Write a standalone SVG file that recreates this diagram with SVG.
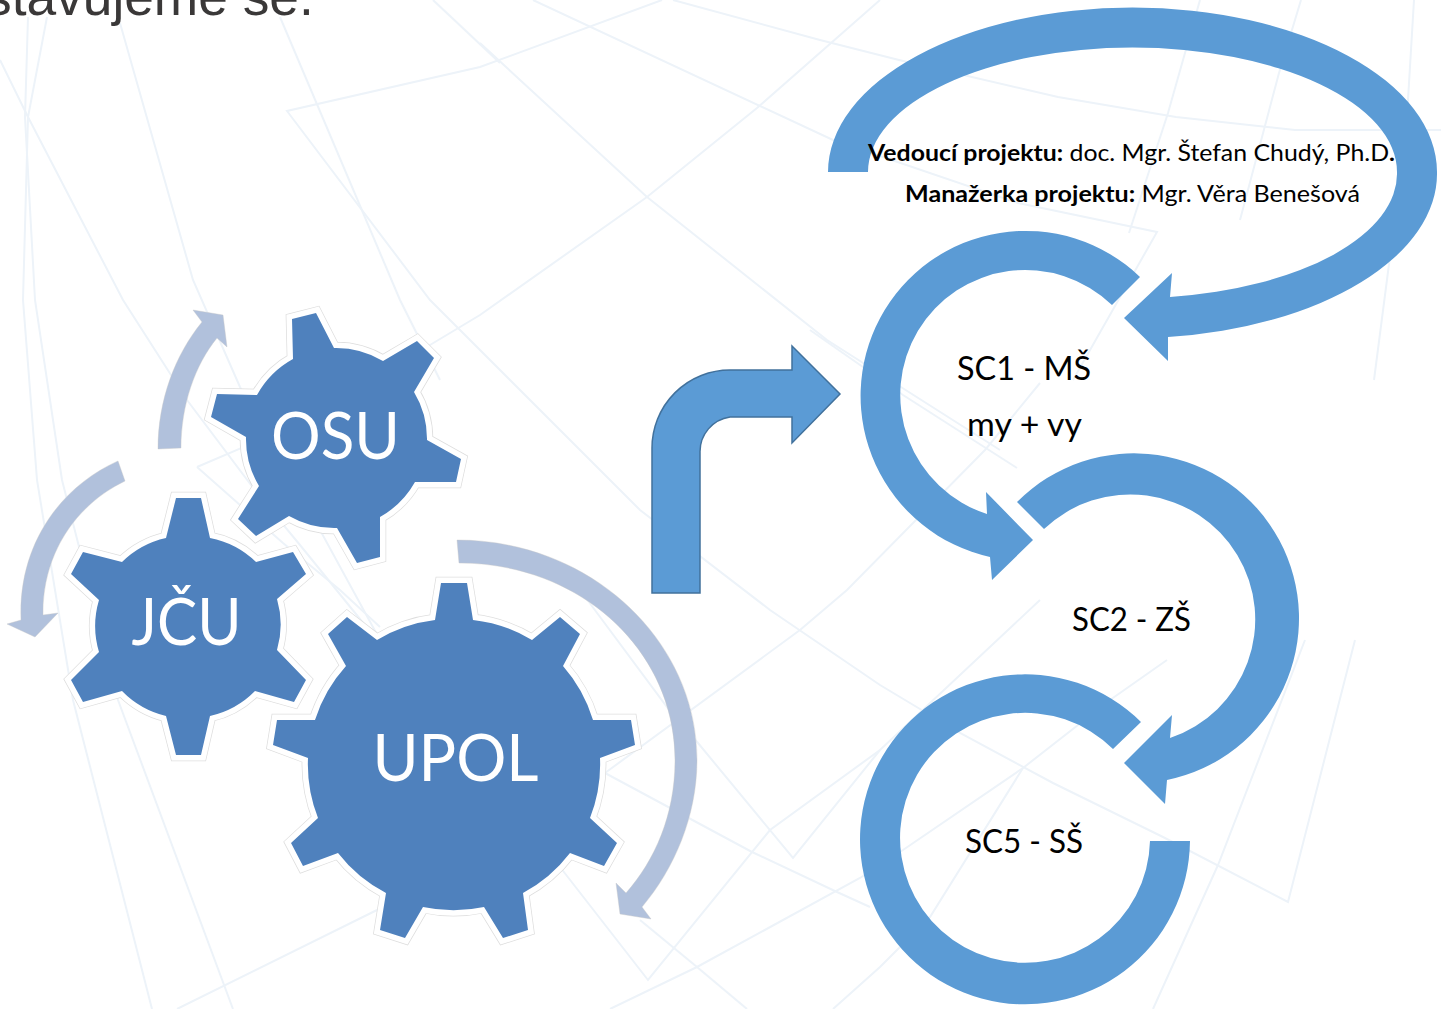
<svg xmlns="http://www.w3.org/2000/svg" width="1441" height="1009" viewBox="0 0 1441 1009">
<style>
.bg{fill:none;stroke:#edf3f9;stroke-width:2}
.blue{fill:#5b9bd5}
.pale{fill:#b1c1dc;stroke:#c8c8c8;stroke-width:.4}
.halo1{fill:none;stroke:#dedede;stroke-width:12.5;stroke-linejoin:miter}
.halo2{fill:none;stroke:#fff;stroke-width:11;stroke-linejoin:miter}
.gear{fill:#4f81bd}
.gt{font-family:"Lato","Liberation Sans",sans-serif;fill:#fff;text-anchor:middle}
.t{font-family:"Lato","Liberation Sans",sans-serif;fill:#000;font-size:32.5px}
.s{font-size:23px}
.b{font-weight:700}
</style>
<defs>
<path id="g-osu" d="M292,319L316,313L334,348A91,91 0 0 1 383,361L417,341L434,358L414,392A91,91 0 0 1 427,440L461,459L456,482L415,482A91,91 0 0 1 380,517L380,557L357,563L337,528A91,91 0 0 1 289,516L256,536L238,519L259,486A91,91 0 0 1 246,437L211,417L217,394L257,395A91,91 0 0 1 293,359Z"/>
<path id="g-jcu" d="M176,498L201,498L210,538A91,91 0 0 1 256,562L293,552L306,574L277,599A91,91 0 0 1 277,650L306,680L294,702L255,691A91,91 0 0 1 210,716L201,755L176,755L166,716A91,91 0 0 1 122,691L83,702L71,680L99,652A91,91 0 0 1 99,600L71,574L83,552L122,562A91,91 0 0 1 166,538Z"/>
<path id="g-upol" d="M441,583L467,583L473,620A146,146 0 0 1 532,640L560,617L580,634L563,666A146,146 0 0 1 593,720L631,720L635,745L600,758A146,146 0 0 1 590,818L617,843L604,866L570,853A146,146 0 0 1 523,893L528,930L503,938L484,907A146,146 0 0 1 423,907L405,938L380,930L386,893A146,146 0 0 1 338,853L303,866L291,843L318,818A146,146 0 0 1 308,758L273,745L277,720L315,720A146,146 0 0 1 346,666L328,634L347,617L377,640A146,146 0 0 1 435,620Z"/>
</defs>
<rect width="1441" height="1009" fill="#fff"/>
<g id="background">
<path class="bg" d="M47,17L28,117L23,300L37,480L73,700L152,1009"/>
<path class="bg" d="M28,17L25,117L35,300L62,480L118,700L233,1009"/>
<path class="bg" d="M0,60L28,117L123,300L187,400L257,493L300,545L377,640"/>
<path class="bg" d="M120,23L193,280L240,387L280,470L320,530L380,640"/>
<path class="bg" d="M280,17L400,300L440,380"/>
<path class="bg" d="M433,0L500,63"/>
<path class="bg" d="M662,0L480,67L287,111L430,300L640,510L770,610L880,685L960,733L1053,783L1163,837L1288,902L1355,640"/>
<path class="bg" d="M197,467L260,440L380,375L480,315L647,197L757,108L880,0"/>
<path class="bg" d="M197,467L283,543L340,590L380,627"/>
<path class="bg" d="M533,0L833,140L1018,203L1157,232L1073,380"/>
<path class="bg" d="M673,0L820,40L899,60L1058,97L1176,117L1295,130L1441,130"/>
<path class="bg" d="M480,43L647,197L827,340L1000,450"/>
<path class="bg" d="M1200,0L1168,113L1129,233"/>
<path class="bg" d="M1301,0L1279,73L1240,220"/>
<path class="bg" d="M1414,0L1406,133L1374,380"/>
<path class="bg" d="M560,867L648,980L770,830L880,750L1040,600"/>
<path class="bg" d="M580,590L667,707L698,743L793,858L880,750"/>
<path class="bg" d="M177,1009L377,910L605,773L800,630L847,590L985,450L1040,383"/>
<path class="bg" d="M605,773L752,852L837,892L870,907"/>
<path class="bg" d="M610,1009L697,967L860,878L903,850L1023,768L1110,700L1167,660"/>
<path class="bg" d="M640,920L697,967L747,1009"/>
<path class="bg" d="M833,1009L880,967L930,917L1023,768"/>
<path class="bg" d="M810,330L903,395L1017,468"/>
<path class="bg" d="M1305,640L1218,865L1153,1009"/>
</g>
<text id="title" x="-15" y="14.5" font-family="Liberation Sans, sans-serif" font-size="53.3" fill="#3a3838">stavujeme se.</text>
<g id="connectors">
<path class="pale" d="M158,449C158,400 175,355 202,322L193,310L223,315L227,347L217,338C195,365 181,405 181,448Z"/>
<path class="pale" d="M118,461C60,487 18,545 21,620L7,624L35,637L58,613L43,615C42,555 75,505 125,481Z"/>
<path class="pale" d="M457,540C590,540 697,640 697,760C697,815 675,868 642,907L651,919L620,914L616,883L626,893C655,860 675,815 675,760C675,650 580,563 459,563Z"/>
<path class="blue" stroke="#41719c" stroke-width="1.5" d="M652,593L700,593L700,452A35,35 0 0 1 730,417L792,417L792,443L840,394L792,346L792,370L730,370A78,78 0 0 0 652,448Z"/>
<path class="blue" d="M868,172L828,172A304.500,164.500 0 0 1 1437,172A304.500,164.500 0 0 1 1168,337L1168,361L1124,318L1172,273L1170,297A264.500,124.500 0 0 0 1397,172A264.500,124.500 0 0 0 868,172Z"/>
<path class="blue" d="M1140,277A165,165 0 1 0 990,557L992,580L1033,540L986,492L987,514A125,125 0 1 1 1112,305Z"/>
<path class="blue" d="M1017,502A165,165 0 1 1 1167,780L1165,804L1124,763L1172,715L1170,738A125,125 0 1 0 1044,529Z"/>
<path class="blue" d="M1141,722A165,165 0 1 0 1190,841L1150,841A125,125 0 1 1 1113,749Z"/>
</g>
<g id="node-osu"><use href="#g-osu" class="halo1"/><use href="#g-osu" class="halo2"/><use href="#g-osu" class="gear"/><text class="gt" x="335.500" y="459" font-size="66" textLength="129" lengthAdjust="spacingAndGlyphs">OSU</text></g>
<g id="node-jcu"><use href="#g-jcu" class="halo1"/><use href="#g-jcu" class="halo2"/><use href="#g-jcu" class="gear"/><text class="gt" x="186.500" y="645" font-size="66" textLength="110" lengthAdjust="spacingAndGlyphs">JČU</text></g>
<g id="node-upol"><use href="#g-upol" class="halo1"/><use href="#g-upol" class="halo2"/><use href="#g-upol" class="gear"/><text class="gt" x="455.500" y="781" font-size="66" textLength="166" lengthAdjust="spacingAndGlyphs">UPOL</text></g>
<g id="node-lead">
<text class="t s" x="868" y="161" textLength="527" lengthAdjust="spacingAndGlyphs"><tspan class="b">Vedoucí projektu:</tspan> doc. Mgr. Štefan Chudý, Ph.D<tspan class="b">.</tspan></text>
<text class="t s" x="905" y="202" textLength="455" lengthAdjust="spacingAndGlyphs"><tspan class="b">Manažerka projektu:</tspan> Mgr. Věra Benešová</text>
</g>
<g id="node-sc1"><text class="t" x="957" y="380" textLength="134" lengthAdjust="spacingAndGlyphs">SC1 - MŠ</text><text class="t" x="967" y="436" textLength="115" lengthAdjust="spacingAndGlyphs">my + vy</text></g>
<g id="node-sc2"><text class="t" x="1072" y="631" textLength="119" lengthAdjust="spacingAndGlyphs">SC2 - ZŠ</text></g>
<g id="node-sc5"><text class="t" x="965" y="853" textLength="118" lengthAdjust="spacingAndGlyphs">SC5 - SŠ</text></g>
</svg>
